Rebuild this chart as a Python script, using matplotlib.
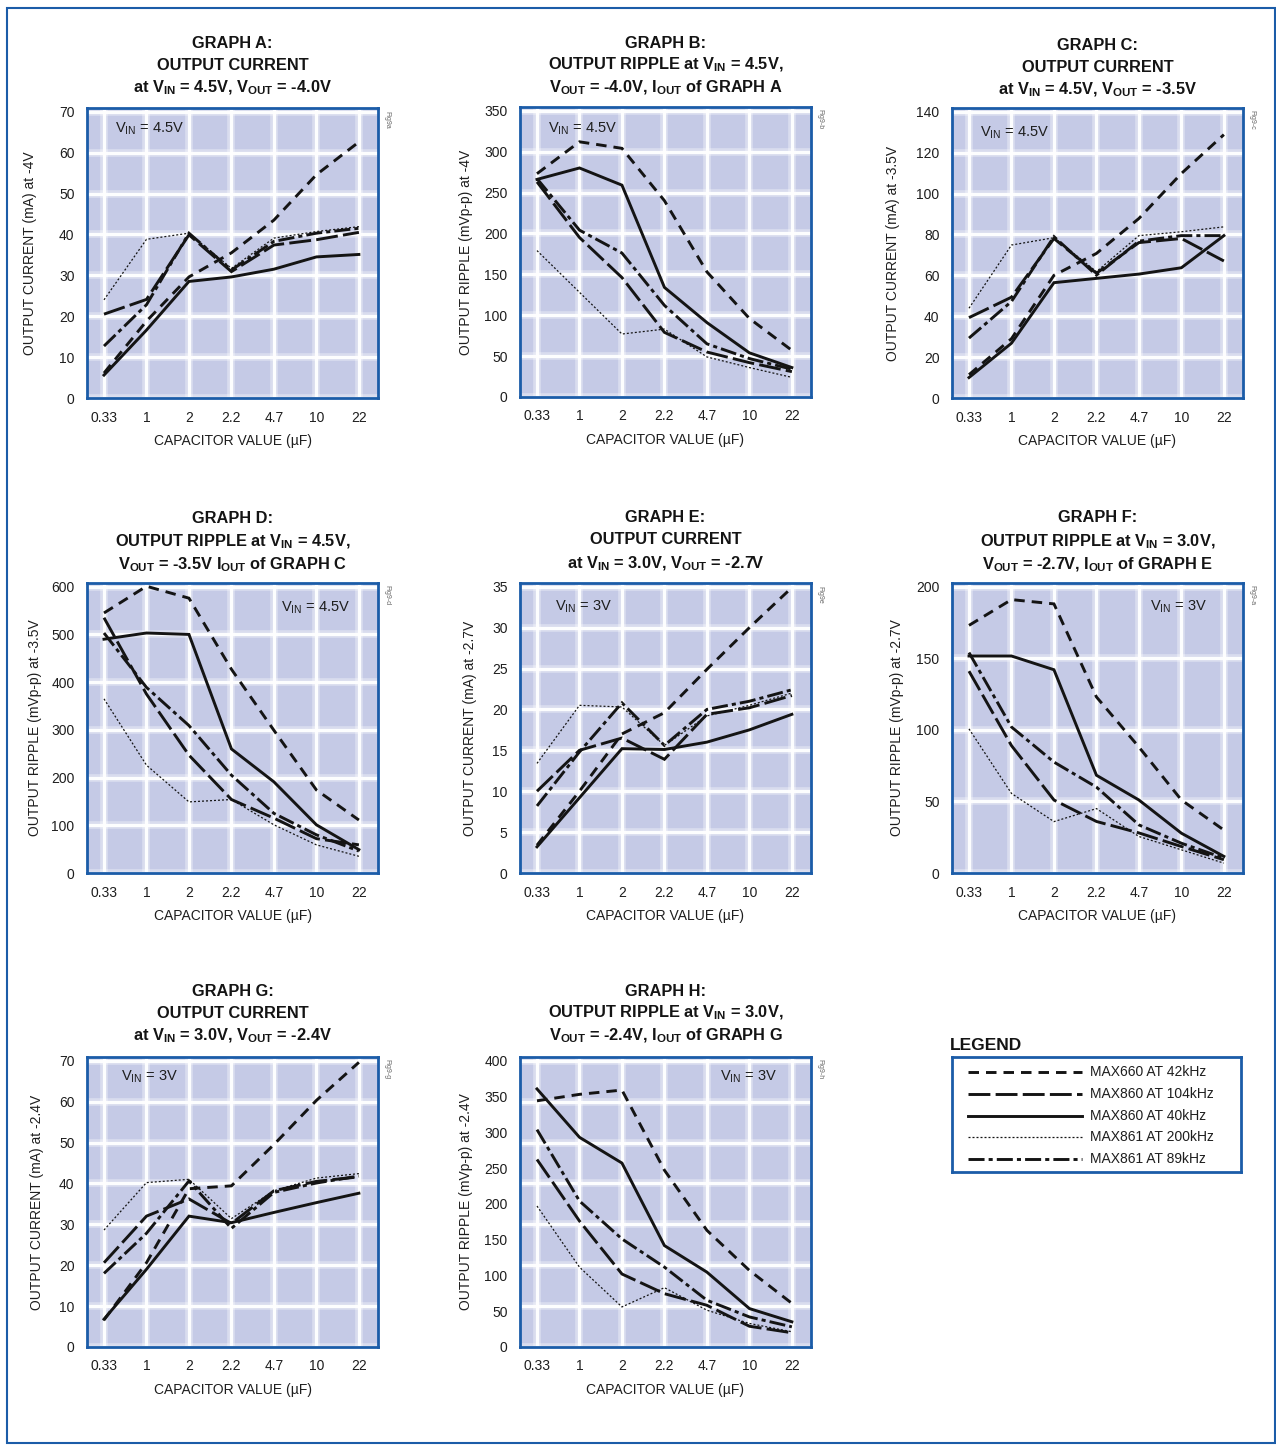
import matplotlib
matplotlib.use("Agg")
import matplotlib.pyplot as plt
from matplotlib.patches import Rectangle

plt.rcParams['font.family'] = ['Liberation Sans', 'DejaVu Sans']
plt.rcParams['mathtext.fontset'] = 'custom'
plt.rcParams['mathtext.rm'] = 'Liberation Sans'
plt.rcParams['mathtext.it'] = 'Liberation Sans:italic'
plt.rcParams['mathtext.bf'] = 'Liberation Sans:bold'

# ---------------------------------------------------------------- data
caps = ["0.33", "1", "2", "2.2", "4.7", "10", "22"]
series_names = ["MAX660 AT 42kHz", "MAX860 AT 104kHz", "MAX860 AT 40kHz",
                "MAX861 AT 200kHz", "MAX861 AT 89kHz"]

# Graph A: output current (mA), VIN = 4.5V, VOUT = -4.0V
a_max660_42 = [6.1, 18.8, 29.6, 35.5, 43.5, 54.6, 62.6]
a_max860_104 = [20.5, 24.1, 39.9, 30.9, 37.4, 38.7, 40.5]
a_max860_40 = [5.6, 16.6, 28.5, 29.6, 31.5, 34.5, 35.1]
a_max861_200 = [24.0, 38.8, 40.3, 31.7, 39.1, 40.7, 41.9]
a_max861_89 = [12.7, 22.8, 40.3, 31.3, 38.3, 40.3, 41.5]

# Graph B: output ripple (mVp-p), VIN = 4.5V, VOUT = -4.0V
b_max660_42 = [273, 312, 304, 240, 153, 96, 57]
b_max860_104 = [263, 195, 146, 79, 55, 42, 31]
b_max860_40 = [266, 280, 259, 134, 91, 54, 36]
b_max861_200 = [179, 128, 77, 83, 49, 36, 24]
b_max861_89 = [267, 204, 176, 112, 65, 47, 34]

# Graph C: output current (mA), VIN = 4.5V, VOUT = -3.5V
c_max660_42 = [11.4, 29.0, 60.0, 70.7, 87.8, 109.8, 128.8]
c_max860_104 = [39.3, 49.3, 78.0, 61.0, 76.0, 78.0, 67.0]
c_max860_40 = [10.0, 26.8, 56.4, 58.5, 60.6, 63.7, 79.4]
c_max861_200 = [43.9, 74.8, 78.4, 61.8, 79.4, 81.3, 83.7]
c_max861_89 = [29.3, 47.2, 78.9, 60.1, 76.7, 79.4, 79.4]

# Graph D: output ripple (mVp-p), VIN = 4.5V, VOUT = -3.5V
d_max660_42 = [545, 601, 576, 427, 299, 174, 111]
d_max860_104 = [535, 375, 247, 154, 115, 72, 59]
d_max860_40 = [490, 503, 500, 260, 191, 101, 49]
d_max861_200 = [365, 226, 149, 154, 101, 59, 35]
d_max861_89 = [503, 389, 309, 205, 125, 80, 46]

# Graph E: output current (mA), VIN = 3.0V, VOUT = -2.7V
e_max660_42 = [3.4, 10.0, 17.0, 19.6, 24.9, 30.0, 34.9]
e_max860_104 = [10.0, 15.0, 16.5, 13.9, 19.4, 20.2, 21.7]
e_max860_40 = [3.2, 9.2, 15.2, 15.1, 16.0, 17.5, 19.4]
e_max861_200 = [13.4, 20.5, 20.3, 15.6, 19.2, 20.5, 22.0]
e_max861_89 = [8.2, 14.8, 20.8, 15.6, 20.0, 21.0, 22.4]

# Graph F: output ripple (mVp-p), VIN = 3.0V, VOUT = -2.7V
f_max660_42 = [173, 191, 188, 123, 88, 51, 30]
f_max860_104 = [141, 89, 51, 36, 28, 18.5, 9.3]
f_max860_40 = [151.6, 151.6, 142, 68.3, 51, 27.8, 11.6]
f_max861_200 = [100.7, 55.6, 35.9, 45, 25.5, 16.2, 6.9]
f_max861_89 = [154, 102, 77.5, 60, 33.6, 20.8, 10.4]

# Graph G: output current (mA), VIN = 3.0V, VOUT = -2.4V
g_max660_42 = [6.6, 20.6, 38.7, 39.4, 49.5, 60.3, 69.6]
g_max860_104 = [20.6, 32.0, 36.2, 30.2, 38.2, 40.5, 41.6]
g_max860_40 = [6.8, 19.0, 32.0, 30.4, 32.9, 35.3, 37.6]
g_max861_200 = [28.6, 40.2, 41.0, 31.4, 38.2, 41.3, 42.4]
g_max861_89 = [18.0, 27.8, 40.6, 29.0, 37.8, 40.1, 41.8]

# Graph H: output ripple (mVp-p), VIN = 3.0V, VOUT = -2.4V
h_max660_42 = [344, 353, 359, 247, 163, 107, 61]
h_max860_104 = [262, 176, 102, 74.5, 58.3, 29, 19.9]
h_max860_40 = [360.6, 293, 257, 141.7, 104.6, 53.7, 35.2]
h_max861_200 = [197, 111.6, 56, 82.9, 51.4, 32.9, 21.3]
h_max861_89 = [303.7, 204, 151, 111.6, 65.3, 42, 28.2]

# ---------------------------------------------------------------- styling
W, H = 1276, 1445
BLUE = '#1b5ca8'
PANEL_BG = '#c5cae6'
INK = '#141414'
TXT = '#1e1e1e'
FS_TICK = 10
FS_TITLE = 11.8

line_styles = {
    "MAX660 AT 42kHz": dict(ls=(0, (3.6, 2.4)), lw=2.1),
    "MAX860 AT 104kHz": dict(ls=(0, (7.5, 1.8)), lw=2.1),
    "MAX860 AT 40kHz": dict(ls='-', lw=2.1),
    "MAX861 AT 200kHz": dict(ls=(0, (1.6, 1.6)), lw=0.9),
    "MAX861 AT 89kHz": dict(ls=(0, (5.5, 1.4, 1.4, 1.4)), lw=2.1),
}
draw_order = ["MAX861 AT 200kHz", "MAX660 AT 42kHz", "MAX860 AT 104kHz",
              "MAX861 AT 89kHz", "MAX860 AT 40kHz"]

fig = plt.figure(figsize=(W / 100, H / 100), dpi=100)


def fx(px):
    return px / W


def fy(py):
    return 1 - py / H


def bold_title(x, y, text):
    fig.text(fx(x), fy(y), text, ha='center', va='center', fontsize=FS_TITLE,
             fontweight='bold', color=INK)


panels = [
    dict(left=87, top=108, data=[a_max660_42, a_max860_104, a_max860_40, a_max861_200, a_max861_89],
         ymax=70, ystep=10, grid_rows=7, ylabel="OUTPUT CURRENT (mA) at -4V", ylab_x=30,
         title=["GRAPH A:", "OUTPUT CURRENT", r"at $\mathbf{V_{IN}}$ = 4.5V, $\mathbf{V_{OUT}}$ = -4.0V"],
         title_y=[43, 65, 88], vin=r"$\mathrm{V_{IN}}$ = 4.5V", vin_pos=(115, 129, 'left'), tag="Fig9a"),
    dict(left=520, top=107, data=[b_max660_42, b_max860_104, b_max860_40, b_max861_200, b_max861_89],
         ymax=350, ystep=50, grid_rows=7, ylabel="OUTPUT RIPPLE (mVp-p) at -4V", ylab_x=466,
         title=["GRAPH B:", r"OUTPUT RIPPLE at $\mathbf{V_{IN}}$ = 4.5V,",
                r"$\mathbf{V_{OUT}}$ = -4.0V, $\mathbf{I_{OUT}}$ of GRAPH A"],
         title_y=[43, 65, 88], vin=r"$\mathrm{V_{IN}}$ = 4.5V", vin_pos=(548, 129, 'left'), tag="Fig9-b"),
    dict(left=952, top=108, data=[c_max660_42, c_max860_104, c_max860_40, c_max861_200, c_max861_89],
         ymax=140, ystep=20, grid_rows=7, ylabel="OUTPUT CURRENT (mA) at -3.5V", ylab_x=893,
         title=["GRAPH C:", "OUTPUT CURRENT", r"at $\mathbf{V_{IN}}$ = 4.5V, $\mathbf{V_{OUT}}$ = -3.5V"],
         title_y=[45, 67, 90], vin=r"$\mathrm{V_{IN}}$ = 4.5V", vin_pos=(980, 133, 'left'), tag="Fig9-c"),
    dict(left=87, top=583, data=[d_max660_42, d_max860_104, d_max860_40, d_max861_200, d_max861_89],
         ymax=600, ystep=100, grid_rows=6, ylabel="OUTPUT RIPPLE (mVp-p) at -3.5V", ylab_x=35,
         title=["GRAPH D:", r"OUTPUT RIPPLE at $\mathbf{V_{IN}}$ = 4.5V,",
                r"$\mathbf{V_{OUT}}$ = -3.5V $\mathbf{I_{OUT}}$ of GRAPH C"],
         title_y=[519, 542, 565], vin=r"$\mathrm{V_{IN}}$ = 4.5V", vin_pos=(350, 608, 'right'), tag="Fig9-d"),
    dict(left=520, top=583, data=[e_max660_42, e_max860_104, e_max860_40, e_max861_200, e_max861_89],
         ymax=35, ystep=5, grid_rows=7, ylabel="OUTPUT CURRENT (mA) at -2.7V", ylab_x=470,
         title=["GRAPH E:", "OUTPUT CURRENT", r"at $\mathbf{V_{IN}}$ = 3.0V, $\mathbf{V_{OUT}}$ = -2.7V"],
         title_y=[518, 540, 564], vin=r"$\mathrm{V_{IN}}$ = 3V", vin_pos=(555, 607, 'left'), tag="Fig9e"),
    dict(left=952, top=583, data=[f_max660_42, f_max860_104, f_max860_40, f_max861_200, f_max861_89],
         ymax=200, ystep=50, grid_rows=4, ylabel="OUTPUT RIPPLE (mVp-p) at -2.7V", ylab_x=897,
         title=["GRAPH F:", r"OUTPUT RIPPLE at $\mathbf{V_{IN}}$ = 3.0V,",
                r"$\mathbf{V_{OUT}}$ = -2.7V, $\mathbf{I_{OUT}}$ of GRAPH E"],
         title_y=[518, 542, 565], vin=r"$\mathrm{V_{IN}}$ = 3V", vin_pos=(1207, 607, 'right'), tag="Fig9-a"),
    dict(left=87, top=1057, data=[g_max660_42, g_max860_104, g_max860_40, g_max861_200, g_max861_89],
         ymax=70, ystep=10, grid_rows=7, ylabel="OUTPUT CURRENT (mA) at -2.4V", ylab_x=37,
         title=["GRAPH G:", "OUTPUT CURRENT", r"at $\mathbf{V_{IN}}$ = 3.0V, $\mathbf{V_{OUT}}$ = -2.4V"],
         title_y=[992, 1013, 1036], vin=r"$\mathrm{V_{IN}}$ = 3V", vin_pos=(121, 1077, 'left'), tag="Fig9-g"),
    dict(left=520, top=1057, data=[h_max660_42, h_max860_104, h_max860_40, h_max861_200, h_max861_89],
         ymax=400, ystep=50, grid_rows=7, ylabel="OUTPUT RIPPLE (mVp-p) at -2.4V", ylab_x=466,
         title=["GRAPH H:", r"OUTPUT RIPPLE at $\mathbf{V_{IN}}$ = 3.0V,",
                r"$\mathbf{V_{OUT}}$ = -2.4V, $\mathbf{I_{OUT}}$ of GRAPH G"],
         title_y=[991, 1013, 1036], vin=r"$\mathrm{V_{IN}}$ = 3V", vin_pos=(777, 1077, 'right'), tag="Fig9-h"),
]

PW, PH = 291, 290
xpos = list(range(len(caps)))

for p in panels:
    left, top = p['left'], p['top']
    ax = fig.add_axes([fx(left), fy(top + PH), PW / W, PH / H])
    ax.set_facecolor(PANEL_BG)
    ymax = p['ymax']
    ax.set_xlim(-0.4, 6.45)
    ax.set_ylim(0, ymax * 1.013)

    # soft white grid
    gy = [ymax * k / p['grid_rows'] for k in range(p['grid_rows'] + 1)]
    for x in xpos:
        ax.axvline(x, color='white', lw=5.5, alpha=0.35, zorder=0.5)
        ax.axvline(x, color='white', lw=2.3, alpha=0.95, zorder=0.6)
    for y in gy:
        ax.axhline(y, color='white', lw=5.5, alpha=0.35, zorder=0.5)
        ax.axhline(y, color='white', lw=2.3, alpha=0.95, zorder=0.6)

    for name in draw_order:
        vals = p['data'][series_names.index(name)]
        st = line_styles[name]
        ax.plot(xpos, vals, color=INK, linestyle=st['ls'], lw=st['lw'],
                solid_joinstyle='miter', dash_joinstyle='miter', zorder=3)

    ax.set_xticks(xpos)
    ax.set_xticklabels(caps)
    ax.set_yticks(list(range(0, ymax + 1, p['ystep'])))
    ax.tick_params(length=0, pad=9, labelsize=FS_TICK, colors=TXT)
    for s in ax.spines.values():
        s.set_color(BLUE)
        s.set_linewidth(2.0)

    ax.set_xlabel("CAPACITOR VALUE (\u00b5F)", fontsize=FS_TICK, color=TXT)
    ax.xaxis.set_label_coords(0.5, -0.148)
    ax.xaxis.label.set_va('center')
    ax.set_ylabel(p['ylabel'], fontsize=FS_TICK, color=TXT)
    ax.yaxis.set_label_coords(-(left - p['ylab_x']) / PW, 0.5)
    ax.yaxis.label.set_va('center')

    vx, vy, ha = p['vin_pos']
    fig.text(fx(vx), fy(vy), p['vin'], ha=ha, va='center', fontsize=10.5, color=TXT)

    for line, ty in zip(p['title'], p['title_y']):
        bold_title(left + PW / 2, ty, line)

    fig.text(fx(left + PW + 9), fy(top + 12), p['tag'], rotation=-90, ha='center',
             va='center', fontsize=5, color='#666666')

# ---------------------------------------------------------------- legend
fig.text(fx(950), fy(1046), "LEGEND", ha='left', va='center', fontsize=12.5,
         fontweight='bold', color=INK)
lg_left, lg_top, lg_right, lg_bot = 952, 1057, 1241, 1172
lax = fig.add_axes([fx(lg_left), fy(lg_bot), (lg_right - lg_left) / W, (lg_bot - lg_top) / H])
lax.set_xlim(0, lg_right - lg_left)
lax.set_ylim(lg_bot - lg_top, 0)
lax.set_xticks([])
lax.set_yticks([])
lax.set_facecolor('white')
for s in lax.spines.values():
    s.set_color(BLUE)
    s.set_linewidth(2.0)
legend_rows = [15, 37, 59, 80, 102]
for name, ry in zip(series_names, legend_rows):
    st = line_styles[name]
    lax.plot([16, 130], [ry, ry], color=INK, linestyle=st['ls'], lw=st['lw'])
    lax.text(138, ry, name, ha='left', va='center', fontsize=10, color=TXT)

# outer frame
fig.patches.append(Rectangle((fx(7), fy(1443)), (1275 - 7) / W, (1443 - 8) / H,
                             transform=fig.transFigure, fill=False, ec=BLUE, lw=1.5))

fig.savefig("out.png", dpi=100, facecolor='white')
